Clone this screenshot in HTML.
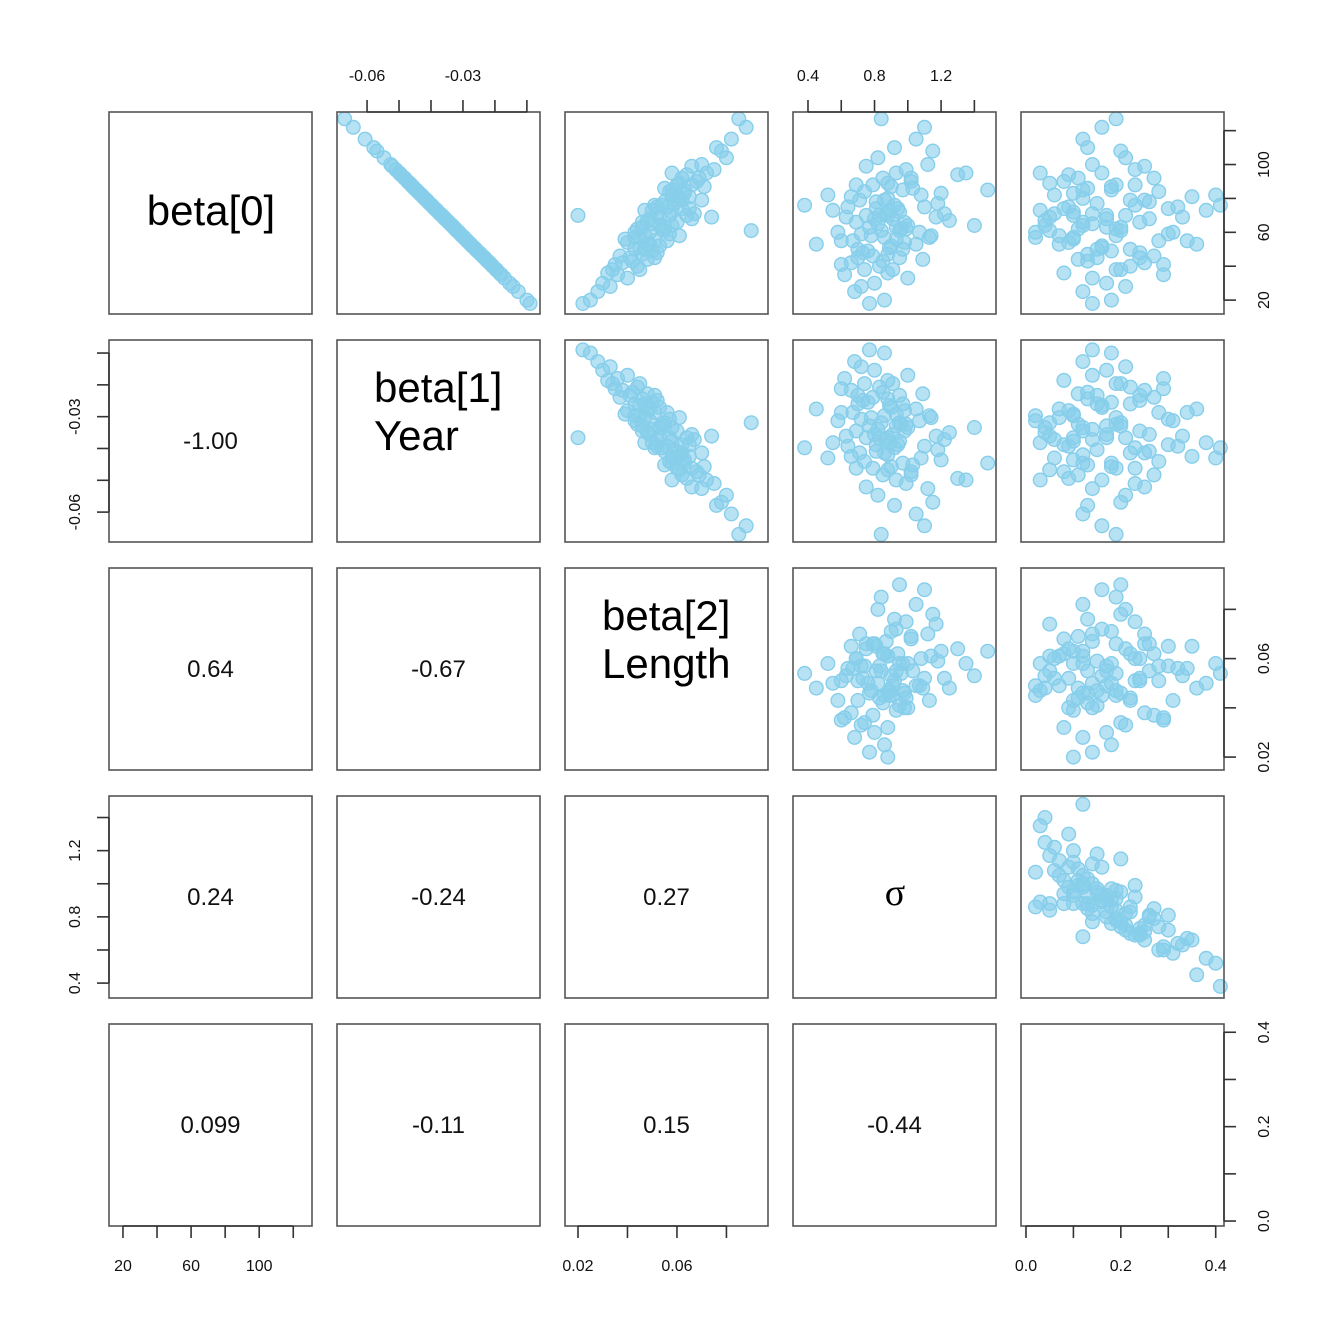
<!DOCTYPE html>
<html><head><meta charset="utf-8"><style>
html,body{margin:0;padding:0;background:#fff;}
svg{display:block;font-family:"Liberation Sans",sans-serif;}
</style></head><body>
<svg id="chart" width="1334" height="1340" viewBox="0 0 1334 1340"></svg>
<script>
const varNames = ["beta0","beta1","beta2","sigma","x5"];
const beta0 = [65,72,58,80,50,90,42,68,61,75,55,85,47,70,62,95,38,78,53,66,100,30,73,59,83,45,69,57,88,64,108,25,76,49,82,60,71,54,92,40,67,79,52,86,35,74,63,97,44,70,115,20,81,56,77,48,89,62,104,33,73,58,84,51,68,94,43,75,60,87,122,28,66,79,46,92,55,71,38,99,64,82,50,110,36,74,57,88,63,18,127,69,41,85,53,76,61,70,95,45];
const beta1 = [-0.0340,-0.0377,-0.0303,-0.0420,-0.0260,-0.0473,-0.0217,-0.0356,-0.0319,-0.0393,-0.0287,-0.0446,-0.0244,-0.0366,-0.0324,-0.0499,-0.0196,-0.0409,-0.0276,-0.0345,-0.0526,-0.0154,-0.0382,-0.0308,-0.0436,-0.0233,-0.0361,-0.0297,-0.0462,-0.0334,-0.0569,-0.0127,-0.0398,-0.0255,-0.0430,-0.0313,-0.0372,-0.0281,-0.0483,-0.0207,-0.0350,-0.0414,-0.0271,-0.0452,-0.0180,-0.0388,-0.0329,-0.0510,-0.0228,-0.0366,-0.0606,-0.0100,-0.0425,-0.0292,-0.0404,-0.0249,-0.0467,-0.0324,-0.0547,-0.0170,-0.0382,-0.0303,-0.0441,-0.0265,-0.0356,-0.0494,-0.0223,-0.0393,-0.0313,-0.0457,-0.0643,-0.0143,-0.0345,-0.0414,-0.0239,-0.0483,-0.0287,-0.0372,-0.0196,-0.0521,-0.0334,-0.0430,-0.0260,-0.0579,-0.0186,-0.0388,-0.0297,-0.0462,-0.0329,-0.0090,-0.0670,-0.0361,-0.0212,-0.0446,-0.0276,-0.0398,-0.0319,-0.0366,-0.0499,-0.0233];
const beta2 = [.050,.058,.047,.061,.043,.068,.038,.049,.055,.052,.051,.058,.046,.064,.044,.072,.034,.055,.049,.060,.070,.030,.047,.057,.063,.041,.053,.045,.066,.058,.078,.028,.051,.050,.060,.043,.067,.040,.062,.044,.048,.070,.053,.055,.036,.062,.046,.075,.048,.057,.082,.025,.065,.039,.059,.052,.061,.054,.080,.040,.050,.061,.057,.045,.066,.064,.042,.056,.049,.071,.088,.033,.046,.062,.037,.069,.056,.052,.045,.066,.053,.058,.047,.076,.032,.065,.043,.060,.055,.022,.085,.074,.035,.063,.048,.054,.090,.020,.058,.051];
const sigma = [.82,.95,.78,.88,.70,1.02,.66,.91,.84,1.10,.60,.97,.88,.75,.99,.93,.74,.81,1.05,.69,1.12,.80,.89,.72,1.20,.95,.63,.86,.79,1.00,1.15,.68,.92,.76,1.08,.58,.87,.98,.85,.83,1.25,.71,.90,1.03,.62,.94,.77,.99,1.09,.83,1.05,.86,.66,.93,1.18,.73,.88,.96,.82,1.00,.55,1.14,.74,.89,.80,1.30,.85,.64,1.07,.90,1.10,.72,.98,.86,.79,1.02,.67,1.22,.91,.75,1.40,.52,.97,.92,.88,.81,1.13,.69,.93,.77,.84,1.17,.60,1.48,.45,.38,.95,.88,1.35,.70];
const x5 = [.14,.10,.19,.12,.22,.08,.25,.17,.05,.09,.28,.18,.13,.21,.11,.16,.20,.26,.07,.24,.14,.17,.03,.30,.10,.15,.33,.02,.19,.12,.20,.12,.23,.18,.06,.31,.14,.09,.27,.22,.04,.25,.16,.13,.29,.08,.20,.23,.11,.17,.12,.18,.35,.10,.15,.24,.05,.19,.21,.14,.38,.07,.28,.16,.26,.09,.13,.32,.02,.18,.16,.21,.12,.22,.27,.11,.34,.06,.19,.25,.04,.40,.15,.13,.08,.30,.10,.23,.17,.14,.19,.05,.29,.12,.36,.41,.20,.10,.03,.24];
const corrLabels = [["-1.00"],["0.64","-0.67"],["0.24","-0.24","0.27"],["0.099","-0.11","0.15","-0.44"]];
const tickVals = [[20,40,60,80,100,120],[-0.06,-0.05,-0.04,-0.03,-0.02,-0.01],[0.02,0.04,0.06,0.08],[0.4,0.6,0.8,1.0,1.2,1.4],[0,0.1,0.2,0.3,0.4]];
const tickLabelVals = [[20,60,100],[-0.06,-0.03],[0.02,0.06],[0.4,0.8,1.2],[0,0.2,0.4]];
const tickLabelText = [["20","60","100"],["-0.06","-0.03"],["0.02","0.06"],["0.4","0.8","1.2"],["0.0","0.2","0.4"]];

const data = [beta0,beta1,beta2,sigma,x5];
const ranges = [[11.8,131],[-0.0694,-0.0059],[0.01475,0.0968],[0.31,1.53],[-0.0105,0.4175]];
const colX = [109,337,565,793,1021], rowY = [112,340,568,796,1024], PW=203, PH=202;
const NS="http://www.w3.org/2000/svg";
const svg=document.getElementById('chart');
function mk(tag,attrs,parent){const e=document.createElementNS(NS,tag);for(const k in attrs)e.setAttribute(k,attrs[k]);(parent||svg).appendChild(e);return e;}
function xScale(v,c,val){const r=ranges[v];return colX[c]+(val-r[0])/(r[1]-r[0])*PW;}
function yScale(v,r,val){const g=ranges[v];return rowY[r]+PH-(val-g[0])/(g[1]-g[0])*PH;}

for(let r=0;r<5;r++){for(let c=0;c<5;c++){
  const g=mk('g',{});
  
  
  if(c>r){
    for(let i=0;i<data[0].length;i++){
      const p=mk('circle',{cx:xScale(c,c,data[c][i]).toFixed(1),cy:yScale(r,r,data[r][i]).toFixed(1),r:6.8,fill:'#87CEEB','fill-opacity':0.6,stroke:'#87CEEB','stroke-width':1.4},g);
      
      
    }
  } else if(c<r){
    const t=mk('text',{x:colX[c]+PW/2,y:rowY[r]+PH/2+8,'text-anchor':'middle','font-size':24,fill:'#111'},g);
    t.textContent=corrLabels[r-1][c];
    
    
  }
  const b=mk('rect',{x:colX[c],y:rowY[r],width:PW,height:PH,fill:'none',stroke:'#555','stroke-width':1.6},g);
  
  
}}
function diag(lines,x,y,anchor,size,fam,name){
  const t=mk('text',{x:x,y:y,'text-anchor':anchor,'font-size':size,fill:'#000','font-family':fam});
  
  
  lines.forEach((l,i)=>{const s=mk('tspan',{x:x,dy:i?48:0},t);s.textContent=l;});
}
diag(["beta[0]"],211,225,'middle',42,'Liberation Sans','diag-label-beta0');
diag(["beta[1]","Year"],374,402,'start',42,'Liberation Sans','diag-label-beta1');
diag(["beta[2]","Length"],602,630,'start',42,'Liberation Sans','diag-label-beta2');
diag(["σ"],895,905,'middle',38,'Liberation Serif','diag-label-sigma');

function axis(v,side,idx){
  const g=mk('g',{});
  
  
  const tv=tickVals[v];const T=12;
  if(side==='top'||side==='bottom'){
    const y0=side==='top'?rowY[0]:rowY[4]+PH;const d=side==='top'?-T:T;
    mk('line',{x1:xScale(v,idx,tv[0]),x2:xScale(v,idx,tv[tv.length-1]),y1:y0,y2:y0,stroke:'#333','stroke-width':1.6},g);
    tv.forEach(t=>{const x=xScale(v,idx,t);mk('line',{x1:x,x2:x,y1:y0,y2:y0+d,stroke:'#333','stroke-width':1.6},g);});
    tickLabelVals[v].forEach((t,i)=>{const x=xScale(v,idx,t);const e=mk('text',{x:x,y:side==='top'?81:1271,'text-anchor':'middle','font-size':16,fill:'#111'},g);e.textContent=tickLabelText[v][i];});
  } else {
    const x0=side==='left'?colX[0]:colX[4]+PW;const d=side==='left'?-T:T;
    mk('line',{y1:yScale(v,idx,tv[0]),y2:yScale(v,idx,tv[tv.length-1]),x1:x0,x2:x0,stroke:'#333','stroke-width':1.6},g);
    tv.forEach(t=>{const y=yScale(v,idx,t);mk('line',{y1:y,y2:y,x1:x0,x2:x0+d,stroke:'#333','stroke-width':1.6},g);});
    tickLabelVals[v].forEach((t,i)=>{const y=yScale(v,idx,t);const lx=side==='left'?80:1269;const e=mk('text',{x:lx,y:y,'text-anchor':'middle','font-size':16,fill:'#111',transform:'rotate(-90 '+lx+' '+y+')'},g);e.textContent=tickLabelText[v][i];});
  }
}
axis(1,'top',1);axis(3,'top',3);
axis(0,'bottom',0);axis(2,'bottom',2);axis(4,'bottom',4);
axis(1,'left',1);axis(3,'left',3);
axis(0,'right',0);axis(2,'right',2);axis(4,'right',4);
</script>
</body></html>
